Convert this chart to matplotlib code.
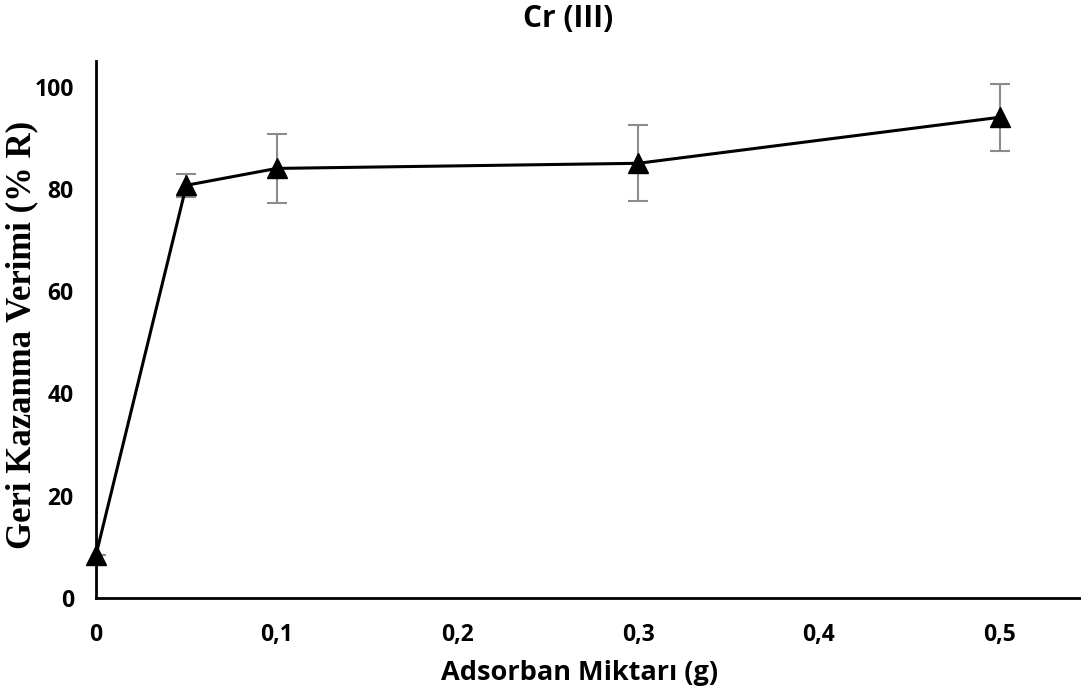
import numpy as np
import matplotlib.pyplot as plt

# adsorbent amount (g) vs recovery (%)
miktar = [0, 0.05, 0.1, 0.3, 0.5]
verim = [8.4, 80.7, 84.0, 85.0, 94.0]
hata = [0, 2.3, 6.7, 7.4, 6.5]

xticks = [0, 0.1, 0.2, 0.3, 0.4, 0.5]
xlabels = ['0', '0,1', '0,2', '0,3', '0,4', '0,5']
yticks = [0, 20, 40, 60, 80, 100]

sans = 'Open Sans'

fig = plt.figure(figsize=(10.81, 6.95), dpi=100)
ax = fig.add_axes([0.0888, 0.1396, 0.9195, 0.7726])

ax.errorbar(miktar, verim, yerr=hata, fmt='none', ecolor='#8c8c8c',
            elinewidth=1.5, capsize=7, capthick=1.5, zorder=2)
ax.plot(miktar, verim, color='black', lw=2.2, marker='^', markersize=15,
        markerfacecolor='black', markeredgecolor='black', clip_on=False, zorder=3)

ax.set_xlim(0, 0.55)
ax.set_ylim(0, 105)
ax.set_xticks(xticks)
ax.set_xticklabels(xlabels)
ax.set_yticks(yticks)
ax.tick_params(axis='y', length=0, pad=16)
ax.tick_params(axis='x', length=0, pad=18)
for lbl in ax.get_xticklabels() + ax.get_yticklabels():
    lbl.set_fontfamily(sans)
    lbl.set_fontweight('bold')
    lbl.set_fontsize(16.5)

ax.spines['top'].set_visible(False)
ax.spines['right'].set_visible(False)
ax.spines['left'].set_linewidth(2)
ax.spines['bottom'].set_linewidth(2)

ax.set_xlabel('Adsorban Miktarı (g)', fontfamily=sans, fontweight='bold',
              fontsize=19.5)
ax.xaxis.set_label_coords(0.487, -0.115)
fig.text(0.02, 0.518, 'Geri Kazanma Verimi (% R)', fontfamily='Liberation Serif',
         fontweight='bold', fontsize=25, rotation=90, ha='center', va='center')
fig.text(0.526, 0.972, 'Cr (III)', fontfamily=sans, fontweight='bold',
         fontsize=21.5, ha='center', va='center')

fig.savefig('out.png', dpi=100)
